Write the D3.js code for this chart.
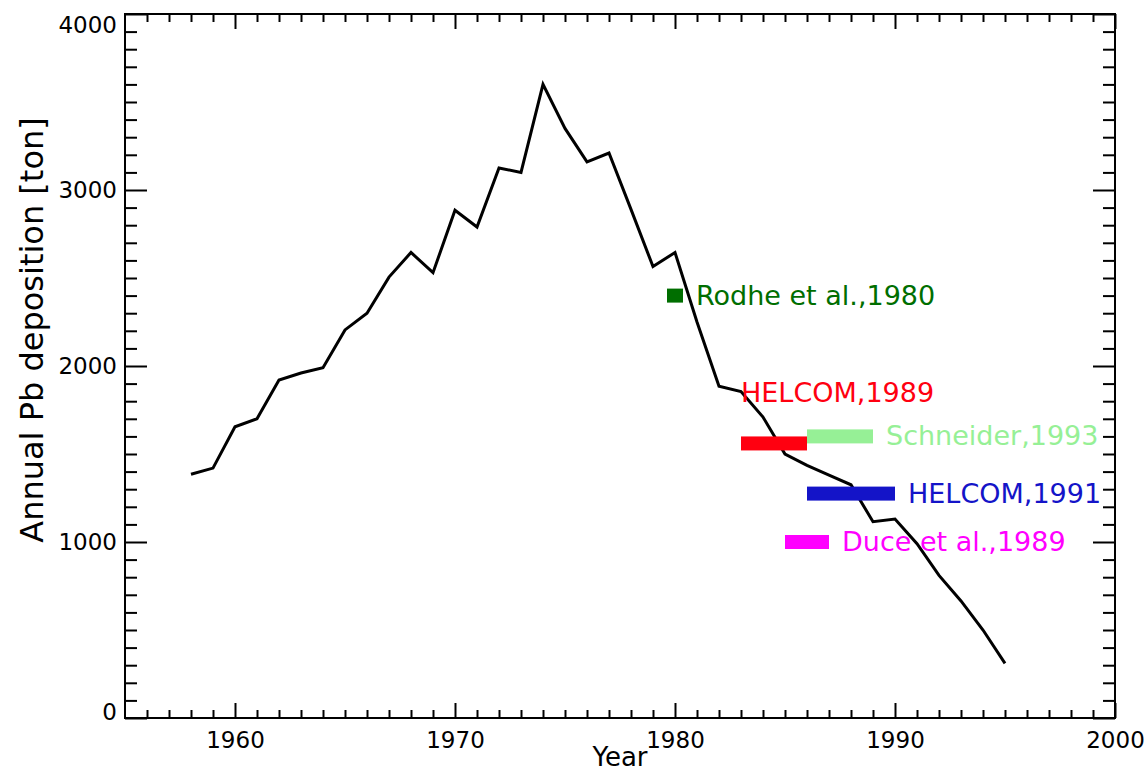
<!DOCTYPE html>
<html>
<head>
<meta charset="utf-8">
<script src="https://cdn.jsdelivr.net/npm/d3@7"></script>
<style>
  body { margin: 0; background: #fff; }
  svg { display: block; }
</style>
</head>
<body>
<svg id="chart" width="1146" height="773"></svg>
<script>
// annual Pb deposition, one value per year
const years = [1958, 1959, 1960, 1961, 1962, 1963, 1964, 1965, 1966, 1967,
  1968, 1969, 1970, 1971, 1972, 1973, 1974, 1975, 1976, 1977,
  1978, 1979, 1980, 1981, 1982, 1983, 1984, 1985, 1986, 1987,
  1988, 1989, 1990, 1991, 1992, 1993, 1994, 1995];
const deposition = [1385, 1420, 1655, 1700, 1920, 1960, 1990, 2205, 2300, 2505,
  2645, 2530, 2885, 2790, 3125, 3100, 3600, 3350, 3160, 3210,
  2890, 2565, 2645, 2250, 1885, 1855, 1710, 1500, 1435, 1380,
  1325, 1115, 1130, 990, 810, 665, 500, 310];

// other estimates (period covered and value)
const refLabels = ['Rodhe et al.,1980', 'HELCOM,1989', 'Schneider,1993', 'HELCOM,1991', 'Duce et al.,1989'];
const refStart = [1980, 1983, 1986, 1986, 1985];
const refEnd = [1980, 1986, 1989, 1990, 1987];
const refValue = [2400, 1560, 1600, 1275, 1000];
const refColors = ['#006e00', '#ff0010', '#96f096', '#1414c8', '#ff00ff'];

const xMajor = [1960, 1970, 1980, 1990, 2000];
const yMajor = [0, 1000, 2000, 3000, 4000];

const font = 'DejaVu Sans, Verdana, sans-serif';
const svg = d3.select('#chart');

const x = d3.scaleLinear().domain([1955, 2000]).range([125, 1115]);
const y = d3.scaleLinear().domain([0, 4000]).range([718, 14]);

const xMinor = d3.range(1956, 2000).filter((v) => v % 10 !== 0);
const yMinor = d3.range(100, 4000, 100).filter((v) => v % 1000 !== 0);

// styling helper for the axis groups
function styleAxis(g) {
  g.select('.domain').remove();
  g.selectAll('line').attr('stroke', '#000').attr('stroke-width', 2);
  g.attr('font-family', font).attr('font-size', 23);
  g.selectAll('text').attr('fill', '#000');
}

// bottom
svg.append('g').attr('transform', `translate(0,${y(0)})`)
  .call(d3.axisBottom(x).tickValues(xMinor).tickSize(-8).tickFormat(''))
  .call(styleAxis);
svg.append('g').attr('transform', `translate(0,${y(0)})`)
  .call(d3.axisBottom(x).tickValues(xMajor).tickSize(-15).tickPadding(14).tickFormat(d3.format('d')))
  .call(styleAxis);
// top
svg.append('g').attr('transform', `translate(0,${y(4000)})`)
  .call(d3.axisTop(x).tickValues(xMinor).tickSize(-8).tickFormat(''))
  .call(styleAxis);
svg.append('g').attr('transform', `translate(0,${y(4000)})`)
  .call(d3.axisTop(x).tickValues(xMajor).tickSize(-15).tickFormat(''))
  .call(styleAxis);
// left
svg.append('g').attr('transform', `translate(${x(1955)},0)`)
  .call(d3.axisLeft(y).tickValues(yMinor).tickSize(-12).tickFormat(''))
  .call(styleAxis);
const yAxisG = svg.append('g').attr('transform', `translate(${x(1955)},0)`)
  .call(d3.axisLeft(y).tickValues(yMajor).tickSize(-22).tickPadding(8).tickFormat(d3.format('d')))
  .call(styleAxis);
// end labels are nudged inside the frame, like the original
yAxisG.selectAll('.tick text')
  .attr('y', (d) => (d === 4000 ? 11 : d === 0 ? -6 : 0));
// right
svg.append('g').attr('transform', `translate(${x(2000)},0)`)
  .call(d3.axisRight(y).tickValues(yMinor).tickSize(-12).tickFormat(''))
  .call(styleAxis);
svg.append('g').attr('transform', `translate(${x(2000)},0)`)
  .call(d3.axisRight(y).tickValues(yMajor).tickSize(-22).tickFormat(''))
  .call(styleAxis);

// frame
svg.append('rect')
  .attr('x', x(1955)).attr('y', y(4000))
  .attr('width', x(2000) - x(1955)).attr('height', y(0) - y(4000))
  .attr('fill', 'none').attr('stroke', '#000').attr('stroke-width', 2);

// axis titles
svg.append('text')
  .attr('transform', `translate(43,${(y(0) + y(4000)) / 2 - 36}) rotate(-90)`)
  .attr('text-anchor', 'middle')
  .attr('font-family', font).attr('font-size', 32)
  .text('Annual Pb deposition [ton]');
svg.append('text')
  .attr('x', (x(1955) + x(2000)) / 2).attr('y', 766)
  .attr('text-anchor', 'middle')
  .attr('font-family', font).attr('font-size', 26)
  .text('Year');

// main series
const line = d3.line().x((d, i) => x(years[i])).y((d) => y(d));
svg.append('path')
  .datum(deposition)
  .attr('d', line)
  .attr('fill', 'none')
  .attr('stroke', '#000')
  .attr('stroke-width', 3)
  .attr('stroke-linejoin', 'miter');

// estimates from literature: thick bars + labels
const barH = 14;
const refs = refLabels.map((label, i) => ({
  label, start: refStart[i], end: refEnd[i], value: refValue[i], color: refColors[i]
}));

refs.forEach((r, i) => {
  let x0 = x(r.start), x1 = x(r.end);
  if (x1 - x0 < barH) { // single year -> square marker
    const c = (x0 + x1) / 2;
    x0 = c - barH / 2 - 1; x1 = c + barH / 2 + 1;
  }
  svg.append('rect')
    .attr('x', x0).attr('y', y(r.value) - barH / 2)
    .attr('width', x1 - x0).attr('height', barH)
    .attr('fill', r.color);

  // HELCOM,1989 sits above its bar, the others right of theirs
  let tx = x1 + 13, ty = y(r.value) + 9;
  if (i === 1) { tx = x0; ty = y(r.value) - 41; }
  svg.append('text')
    .attr('x', tx).attr('y', ty)
    .attr('font-family', font).attr('font-size', 27)
    .attr('fill', r.color)
    .text(r.label);
});
</script>
</body>
</html>
